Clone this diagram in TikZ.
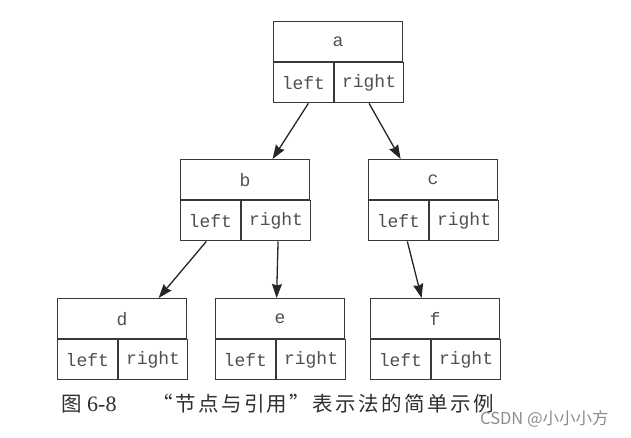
\documentclass[tikz,border=0pt]{standalone}
\usepackage{fontspec}
\usetikzlibrary{arrows.meta,positioning}
\newfontfamily\monof{Liberation Mono}
\newfontfamily\cjkf{Noto Sans CJK SC}
\newfontfamily\serf{Liberation Serif}
\definecolor{boxc}{HTML}{383838}
\definecolor{textc}{HTML}{505050}
\definecolor{capc}{HTML}{2E2E2E}
\definecolor{wmc}{HTML}{8C8C8C}
\tikzset{
  cell/.style={draw=boxc, line width=1.2pt, inner sep=0pt, text=textc,
    font=\monof\fontsize{18}{20}\selectfont, minimum height=40pt},
  topcell/.style={cell, minimum width=129pt, anchor=north west},
  lcell/.style={cell, minimum width=59.5pt, anchor=north west},
  rcell/.style={cell, minimum width=69.5pt, anchor=north west},
  arr/.style={draw=black!85, line width=1.3pt, -{Stealth[length=14pt,width=10pt,inset=1.5pt]}},
}
\newcommand{\treebox}[4]{%
  \node[topcell] (#1) at (#2,#3) {#4};
  \node[lcell] (#1l) at (#1.south west) {left};
  \node[rcell] (#1r) at (#1l.north east) {right};
}
\begin{document}
\begin{tikzpicture}[x=1pt,y=-1pt]
\useasboundingbox (0,0) rectangle (631,437);
\treebox{a}{273}{21}{a}
\treebox{b}{180}{159}{b}
\treebox{c}{368}{159}{c}
\treebox{d}{57}{298}{d}
\treebox{e}{215}{298}{e}
\treebox{f}{370}{298}{f}
\draw[arr] ([xshift=5pt]al.south) -- ([xshift=27.5pt]b.north);
\draw[arr] ([xshift=0pt]ar.south) -- ([xshift=-32.5pt]c.north);
\draw[arr] ([xshift=-4pt]bl.south) -- ([xshift=36.5pt]d.north);
\draw[arr] ([xshift=2pt]br.south) -- ([xshift=-3.5pt]e.north);
\draw[arr] ([xshift=9pt]cl.south) -- ([xshift=-13.5pt]f.north);
\node[anchor=base west, inner sep=0pt, text=capc, font=\cjkf\fontsize{20.5}{24}\selectfont] (cap1) at (61,411) {图};
\node[anchor=base west, inner sep=0pt, text=capc, font=\serf\fontsize{22}{24}\selectfont] (cap2) at (87,411) {6-8};
\node[anchor=base west, inner sep=0pt, text=capc, font=\cjkf\fontsize{20.5}{24}\selectfont\addfontfeature{LetterSpace=12}] (cap3) at (152,411) {“节点与引用”表示法的简单示例};
\node[anchor=base west, inner sep=0pt, text=wmc, font=\cjkf\fontsize{16.5}{18}\selectfont] (wm) at (480,424) {CSDN @小小小方};
\end{tikzpicture}
\end{document}
